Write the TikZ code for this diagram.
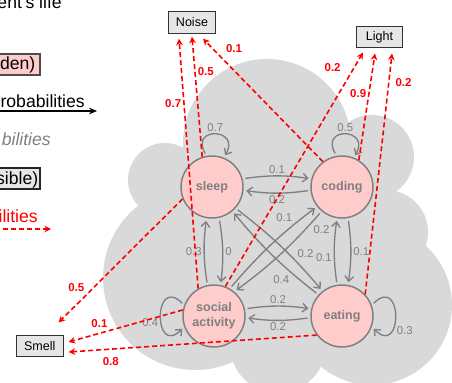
\documentclass[tikz,border=0pt]{standalone}
\usepackage{fontspec}
\setmainfont{Liberation Sans}
\usetikzlibrary{arrows.meta,calc}
\definecolor{cloudgray}{HTML}{D9D9D9}
\definecolor{statepink}{HTML}{FFCCCC}
\definecolor{edgegray}{HTML}{7F7F7F}
\definecolor{obsgray}{HTML}{E6E6E6}
\definecolor{emitred}{HTML}{FF0000}

\begin{document}
\begin{tikzpicture}[x=0.75pt,y=0.75pt,
  state/.style={circle,draw=edgegray,line width=1.1pt,fill=statepink,minimum size=46.5pt,inner sep=0pt,
    text=edgegray,align=center,font=\fontsize{9.4}{11.3}\selectfont\bfseries},
  obs/.style={draw=black!80,line width=0.8pt,fill=obsgray,minimum width=35pt,minimum height=16pt,
    inner sep=0pt,font=\fontsize{9.4}{11}\selectfont},
  trans/.style={draw=edgegray,line width=1pt,-{Straight Barb[length=3.8pt,width=6.5pt]},
    shorten <=2pt,shorten >=2pt},
  tlbl/.style={text=edgegray,inner sep=1.5pt,font=\fontsize{8.5}{10}\selectfont},
  emit/.style={draw=emitred,line width=1.2pt,dash pattern=on 3.75pt off 2.25pt,
    -{Stealth[length=5pt,width=5pt]}},
  elbl/.style={text=emitred,inner sep=1.5pt,font=\fontsize{8.6}{10}\selectfont\bfseries},
  legendtxt/.style={inner sep=0pt,font=\fontsize{13.2}{15}\selectfont}]
  \useasboundingbox (0,0) rectangle (452,382);
  \clip (0,0) rectangle (452,382);

  % cloud behind the hidden states
  \foreach \cx/\cy/\r in {267/239/84, 372/225/42, 386/150/42, 372/77/80,
                          278/37/48, 195/104/92, 165/202/37, 280/142/110}
    \fill[cloudgray] (\cx,\cy) circle[radius=\r];

  % legend, cut at the left edge
  \node[legendtxt,anchor=base east] (title) at (62,373.5) {ent's life};
  \filldraw[fill=statepink,draw=black!70,line width=0.8pt] (-20,307) rectangle (40,328);
  \node[legendtxt,anchor=base east] (hiddenkey) at (35.5,312) {den)};
  \node[legendtxt,anchor=base east] (transkey) at (85,274.7) {robabilities};
  \coordinate (transA) at (-5,271);
  \coordinate (transB) at (97,271);
  \draw[line width=0.9pt,-{Stealth[length=6pt,width=5pt]}] (transA) -- (transB);
  \node[legendtxt,anchor=base east,text=edgegray,font=\fontsize{13.2}{15}\selectfont\itshape] (probkey) at (51,236.3) {bilities};
  \filldraw[fill=obsgray,draw=black!85,line width=0.8pt] (-20,193) rectangle (40,214);
  \node[legendtxt,anchor=base east] (obskey) at (38.5,197) {sible)};
  \node[legendtxt,anchor=base east,text=emitred] (emitkey) at (38,159.3) {ilities};
  \coordinate (emitA) at (-5,153);
  \coordinate (emitB) at (51,153);
  \draw[emit] (emitA) -- (emitB);

  % hidden states
  \node[state] (sleep) at (212,195) {sleep};
  \node[state] (coding) at (342,195) {coding};
  \node[state] (social) at (214,66) {social\\activity};
  \node[state] (eating) at (342,66) {eating};

  % observations
  \node[obs] (noise) at (192,359.5) {Noise};
  \node[obs] (light) at (379.5,345) {Light};
  \node[obs] (smell) at (39.7,36) {Smell};

  % transitions
  \draw[trans] (sleep.15) to[bend left=8] node[tlbl,above]{0.1} (coding.165);
  \draw[trans] (coding.-174) to[bend left=8] node[tlbl,below]{0.2} (sleep.-6);
  \draw[trans] (social.13) to[bend left=8] node[tlbl,above]{0.2} (eating.167);
  \draw[trans] (eating.-177) to[bend left=8] node[tlbl,below]{0.2} (social.-3);
  \draw[trans] (social.102) to[bend left=8] node[tlbl,left]{0.3} (sleep.-100);
  \draw[trans] (sleep.-77) to[bend left=8] node[tlbl,right]{0} (social.78);
  \draw[trans] (eating.99) to[bend left=8] node[tlbl,pos=.4,left]{0.1} (coding.-99);
  \draw[trans] (coding.-79) to[bend left=8] node[tlbl,right]{0.1} (eating.79);
  \draw[trans] (social.60) to[bend left=6] node[tlbl,pos=.78,above left]{0.1} (coding.-142);
  \draw[trans] (coding.-130) to[bend left=6] node[tlbl,pos=.12,below right]{0.2} (social.50);
  \draw[trans] (sleep.-42) to[bend left=6] node[tlbl,pos=.67,above right]{0.2} (eating.128);
  \draw[trans] (eating.138) to[bend left=6] node[tlbl,pos=.27,below left]{0.4} (sleep.-50);
  \draw[trans] (sleep.100) to[out=120,in=60,looseness=5] node[tlbl,above]{0.7} (sleep.68);
  \draw[trans] (coding.100) to[out=120,in=60,looseness=5] node[tlbl,above]{0.5} (coding.68);
  \draw[trans] (social.160) to[out=135,in=225,looseness=5.2] node[tlbl,below left]{0.4} (social.200);
  \draw[trans] (eating.20) to[out=45,in=-45,looseness=5.2] node[tlbl,pos=.6,below right]{0.3} (eating.-20);

  % emissions
  \draw[emit] (social.120) -- node[elbl,pos=.74,left]{0.7} ($(noise.south)+(-13,-5)$);
  \draw[emit] (sleep.108) -- node[elbl,pos=.71,right]{0.5} ($(noise.south)+(0,-3)$);
  \draw[emit] (coding.127) -- node[elbl,pos=.92,right=8pt]{0.1} ($(noise.south)+(11,-5)$);
  \draw[emit] (social.69) -- node[elbl,pos=.935,left=8pt]{0.2} ($(light.south)+(-16.5,-4.3)$);
  \draw[emit] (coding.58) -- node[elbl,pos=.625,left]{0.9} ($(light.south)+(-4.5,-5.3)$);
  \draw[emit] (eating.43) -- node[elbl,pos=.879,right=3pt]{0.2} ($(light.south)+(12.5,-5.3)$);
  \draw[emit] (sleep.-158) -- node[elbl,pos=.77,above left]{0.5} ($(smell.north east)+(-5,12.3)$);
  \draw[emit] (social.169) -- node[elbl,pos=.73,above=2pt]{0.1} ($(smell.east)+(5,4)$);
  \draw[emit] (eating.-143) -- node[elbl,pos=.83,below=4pt]{0.8} ($(smell.east)+(5,-6)$);
\end{tikzpicture}
\end{document}
